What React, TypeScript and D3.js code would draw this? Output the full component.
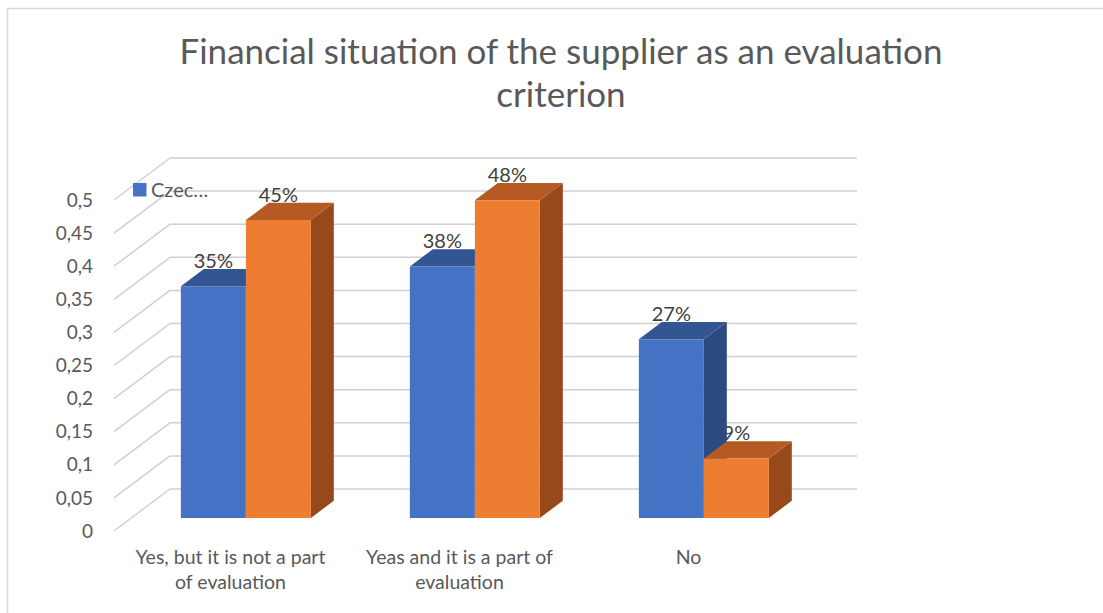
import React from "react";
import * as d3 from "d3";

const titleLines = ["Financial situation of the supplier as an evaluation", "criterion"];
const categories = ["Yes, but it is not a part of evaluation", "Yeas and it is a part of evaluation", "No"];
const categoryLines = [["Yes, but it is not a part", "of evaluation"], ["Yeas and it is a part of", "evaluation"], ["No"]];
const seriesNames = ["Czec…", "Series 2"];
const seriesA = [0.35, 0.38, 0.27];
const seriesB = [0.45, 0.48, 0.09];
const dataLabelsA = ["35%", "38%", "27%"];
const dataLabelsB = ["45%", "48%", "9%"];
const yTicks = [0, 0.05, 0.1, 0.15, 0.2, 0.25, 0.3, 0.35, 0.4, 0.45, 0.5];

const W = 1103, H = 613;
const FONT = "Lato, 'Open Sans', sans-serif";
const colors = [
  { front: "#4472C4", top: "#335693", side: "#2B4A80" },
  { front: "#ED7D31", top: "#B55A22", side: "#97491C" },
];

export default function App() {
  const x = d3.scaleBand<string>().domain(categories).range([114, 801]);
  const y = d3.scaleLinear().domain([0, 0.5]).range([531, 200]);
  const DX = 56, DY = -42;
  const proj = (xf: number, v: number, d: number): [number, number] => [xf + d * DX, y(v) + d * DY];
  const dFront = 0.31, dBack = 0.72;
  const barW = 65;
  const sub = d3.scaleBand<number>().domain([0, 1]).range([0, barW * 2]).padding(0);
  const series = [seriesA, seriesB];
  const labels = [dataLabelsA, dataLabelsB];
  const fmt = (t: number) => String(t).replace(".", ",");
  const pts = (arr: [number, number][]) => arr.map((p) => p.join(",")).join(" ");

  const bars: any[] = [];
  const dataLabels: any[] = [];
  categories.forEach((c, ci) => {
    const center = (x(c) as number) + x.bandwidth() / 2;
    [0, 1].forEach((si) => {
      const v = series[si][ci];
      const x0 = center - barW + (sub(si) as number);
      const x1 = x0 + sub.bandwidth();
      const fBL = proj(x0, 0, dFront), fBR = proj(x1, 0, dFront);
      const fTL = proj(x0, v, dFront), fTR = proj(x1, v, dFront);
      const bTL = proj(x0, v, dBack), bTR = proj(x1, v, dBack), bBR = proj(x1, 0, dBack);
      const col = colors[si];
      bars.push(
        <g key={`b${ci}-${si}`}>
          <polygon points={pts([fTR, bTR, bBR, fBR])} fill={col.side} />
          <polygon points={pts([fTL, fTR, bTR, bTL])} fill={col.top} />
          <polygon points={pts([fBL, fBR, fTR, fTL])} fill={col.front} />
        </g>
      );
      dataLabels.push(
        <text key={`l${ci}-${si}`} x={(fTL[0] + fTR[0]) / 2} y={bTL[1] - 1} textAnchor="middle"
          fontSize={20} fill="#404040" fontFamily={FONT}>{labels[si][ci]}</text>
      );
    });
  });

  return (
    <svg width={W} height={H} style={{ position: "absolute", left: 0, top: 0 }}>
      <rect x={0} y={0} width={W} height={H} fill="#fff" />
      <rect x={7.5} y={8.5} width={W + 20} height={H + 20} fill="none" stroke="#d9d9d9" strokeWidth={1.5} />
      {titleLines.map((t, i) => (
        <text key={t} x={561} y={64 + i * 43} textAnchor="middle" fontSize={35} fill="#595959" fontFamily={FONT}>{t}</text>
      ))}
      {yTicks.map((t) => {
        const a = proj(114, t, 0), b = proj(114, t, 1), e = proj(801, t, 1);
        return (
          <g key={t}>
            <line x1={a[0]} y1={a[1]} x2={b[0]} y2={b[1]} stroke="#d0d0d0" strokeWidth={1.5} />
            <line x1={b[0]} y1={b[1]} x2={e[0]} y2={e[1]} stroke="#d0d0d0" strokeWidth={1.5} />
            <text x={93} y={a[1]} dy="0.35em" textAnchor="end" fontSize={19} fill="#595959" fontFamily={FONT}>{fmt(t)}</text>
          </g>
        );
      })}
      {categories.map((c, ci) => {
        const center = (x(c) as number) + x.bandwidth() / 2;
        return categoryLines[ci].map((ln, li) => (
          <text key={`${c}${li}`} x={center + 2} y={564 + li * 25} textAnchor="middle" fontSize={19.5} fill="#595959" fontFamily={FONT}>{ln}</text>
        ));
      })}
      <rect x={133} y={183} width={13.5} height={13.5} fill={colors[0].front} />
      <text x={151} y={197} fontSize={20} fill="#595959" fontFamily={FONT}>{seriesNames[0]}</text>
      {dataLabels}
      {bars}
    </svg>
  );
}
